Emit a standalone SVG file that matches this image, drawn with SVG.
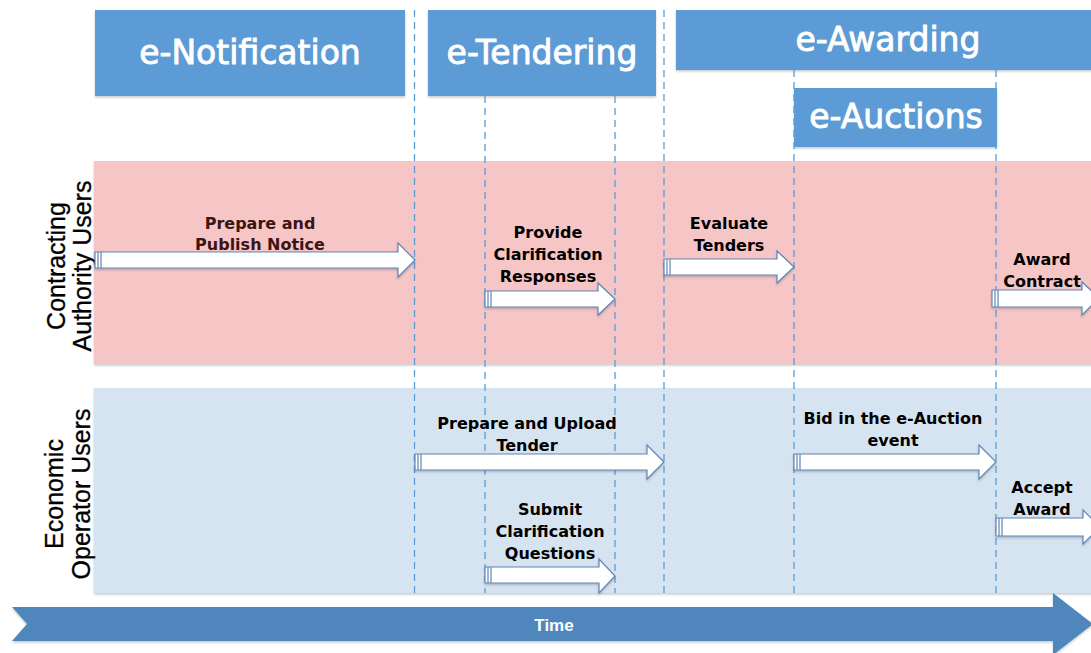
<svg xmlns="http://www.w3.org/2000/svg" width="1091" height="653" viewBox="0 0 1091 653">
  <style>
    .hdr { fill: #5b9bd5; }
    .hdr-t { font-family: "DejaVu Sans", sans-serif; font-size: 33px; fill: #ffffff; stroke: #ffffff; stroke-width: 0.9; text-anchor: middle; }
    .lane-t { font-family: "Liberation Sans", Arial, sans-serif; font-size: 25px; fill: #000000; stroke: #000000; stroke-width: 0.3; text-anchor: middle; }
    .step { fill: #ffffff; stroke: #5f86b5; stroke-width: 1.2; }
    .tail { fill: none; stroke: #5f86b5; stroke-width: 1.2; }
    .lbl { font-family: "DejaVu Sans", sans-serif; font-weight: bold; font-size: 16px; fill: #000000; text-anchor: middle; }
    .guide { stroke: #5b9bd5; stroke-width: 1.3; stroke-dasharray: 7 5; fill: none; }
  </style>
  <defs>
    <filter id="shadow" x="-5%" y="-20%" width="110%" height="150%">
      <feDropShadow dx="0" dy="1.5" stdDeviation="1.2" flood-color="#000000" flood-opacity="0.22"/>
    </filter>
  </defs>

  <rect width="1091" height="653" fill="#ffffff"/>

  <!-- swimlanes -->
  <g id="lane-contracting">
    <rect x="94" y="161" width="1000" height="203" fill="#f6c6c7" filter="url(#shadow)"/>
    <text class="lane-t" transform="translate(65,266) rotate(-90)">Contracting</text>
    <text class="lane-t" transform="translate(91,266) rotate(-90)">Authority Users</text>
  </g>
  <g id="lane-economic">
    <rect x="94" y="388" width="1000" height="205" fill="#d6e4f2" filter="url(#shadow)"/>
    <text class="lane-t" transform="translate(63,494) rotate(-90)">Economic</text>
    <text class="lane-t" transform="translate(90,494) rotate(-90)">Operator Users</text>
  </g>

  <!-- phase headers -->
  <g id="phase-notification">
    <rect class="hdr" x="95" y="10" width="310" height="86" filter="url(#shadow)"/>
    <text class="hdr-t" x="250" y="64">e-Notification</text>
  </g>
  <g id="phase-tendering">
    <rect class="hdr" x="428" y="10" width="228" height="86" filter="url(#shadow)"/>
    <text class="hdr-t" x="542" y="64">e-Tendering</text>
  </g>
  <g id="phase-awarding">
    <rect class="hdr" x="676" y="10" width="420" height="60" filter="url(#shadow)"/>
    <text class="hdr-t" x="888" y="51">e-Awarding</text>
  </g>
  <g id="phase-auctions">
    <rect class="hdr" x="794" y="88" width="203" height="59" filter="url(#shadow)"/>
    <text class="hdr-t" x="896" y="128">e-Auctions</text>
  </g>

  <!-- milestone guides and step arrows -->
  <g id="connectors">
    <line class="guide" x1="414.5" y1="10" x2="414.5" y2="593"/>
    <line class="guide" x1="485" y1="96" x2="485" y2="593"/>
    <line class="guide" x1="615" y1="96" x2="615" y2="593"/>
    <line class="guide" x1="664" y1="10" x2="664" y2="593"/>
    <line class="guide" x1="794" y1="70" x2="794" y2="593"/>
    <line class="guide" x1="996" y1="70" x2="996" y2="593"/>

    <!-- Prepare and Publish Notice -->
    <g id="step-publish" filter="url(#shadow)">
      <path class="step" d="M95,252 H398 V243 L415,260 L398,277 V268 H95 Z"/>
      <path class="tail" d="M98,252 V268 M101,252 V268"/>
    </g>
    <!-- Provide Clarification Responses -->
    <g id="step-responses" filter="url(#shadow)">
      <path class="step" d="M485,291 H598 V283 L615,299 L598,315 V307 H485 Z"/>
      <path class="tail" d="M488,291 V307 M491,291 V307"/>
    </g>
    <!-- Evaluate Tenders -->
    <g id="step-evaluate" filter="url(#shadow)">
      <path class="step" d="M664,259 H777 V251 L794,267 L777,283 V275 H664 Z"/>
      <path class="tail" d="M667,259 V275 M670,259 V275"/>
    </g>
    <!-- Award Contract -->
    <g id="step-award" filter="url(#shadow)">
      <path class="step" d="M992,290 H1082 V282 L1099,298 L1082,315 V307 H992 Z"/>
      <path class="tail" d="M995,290 V307 M998,290 V307"/>
    </g>
    <!-- Prepare and Upload Tender -->
    <g id="step-upload" filter="url(#shadow)">
      <path class="step" d="M415,454 H647 V445 L664,462 L647,479 V470 H415 Z"/>
      <path class="tail" d="M418,454 V470 M421,454 V470"/>
    </g>
    <!-- Submit Clarification Questions -->
    <g id="step-questions" filter="url(#shadow)">
      <path class="step" d="M485,567 H599 V559 L615,576 L599,593 V583 H485 Z"/>
      <path class="tail" d="M488,567 V583 M491,567 V583"/>
    </g>
    <!-- Bid in the e-Auction event -->
    <g id="step-bid" filter="url(#shadow)">
      <path class="step" d="M794,454 H979 V445 L996,462 L979,479 V470 H794 Z"/>
      <path class="tail" d="M797,454 V470 M800,454 V470"/>
    </g>
    <!-- Accept Award -->
    <g id="step-accept" filter="url(#shadow)">
      <path class="step" d="M996,518 H1083 V510 L1100,527 L1083,544 V536 H996 Z"/>
      <path class="tail" d="M999,518 V536 M1002,518 V536"/>
    </g>
  </g>

  <!-- step labels -->
  <g id="label-publish">
    <text class="lbl" x="260" y="229" style="fill:#3b1414">Prepare and</text>
    <text class="lbl" x="260" y="250" style="fill:#3b1414">Publish Notice</text>
  </g>
  <g id="label-responses">
    <text class="lbl" x="548" y="238">Provide</text>
    <text class="lbl" x="548" y="260">Clarification</text>
    <text class="lbl" x="548" y="282">Responses</text>
  </g>
  <g id="label-evaluate">
    <text class="lbl" x="729" y="229">Evaluate</text>
    <text class="lbl" x="729" y="251">Tenders</text>
  </g>
  <g id="label-award">
    <text class="lbl" x="1042" y="265">Award</text>
    <text class="lbl" x="1042" y="287">Contract</text>
  </g>
  <g id="label-upload">
    <text class="lbl" x="527" y="429">Prepare and Upload</text>
    <text class="lbl" x="527" y="451">Tender</text>
  </g>
  <g id="label-questions">
    <text class="lbl" x="550" y="515">Submit</text>
    <text class="lbl" x="550" y="537">Clarification</text>
    <text class="lbl" x="550" y="559">Questions</text>
  </g>
  <g id="label-bid">
    <text class="lbl" x="893" y="424">Bid in the e-Auction</text>
    <text class="lbl" x="893" y="446">event</text>
  </g>
  <g id="label-accept">
    <text class="lbl" x="1042" y="493">Accept</text>
    <text class="lbl" x="1042" y="515">Award</text>
  </g>

  <!-- time axis -->
  <g id="time-axis">
    <path d="M12,607 H1053 V593 L1093,624 L1053,655 V641 H12 L27,624 Z" fill="#4f87bd" filter="url(#shadow)"/>
    <text x="554" y="631" font-family="Liberation Sans, Arial, sans-serif" font-size="17" font-weight="bold" fill="#ffffff" text-anchor="middle">Time</text>
  </g>
</svg>
